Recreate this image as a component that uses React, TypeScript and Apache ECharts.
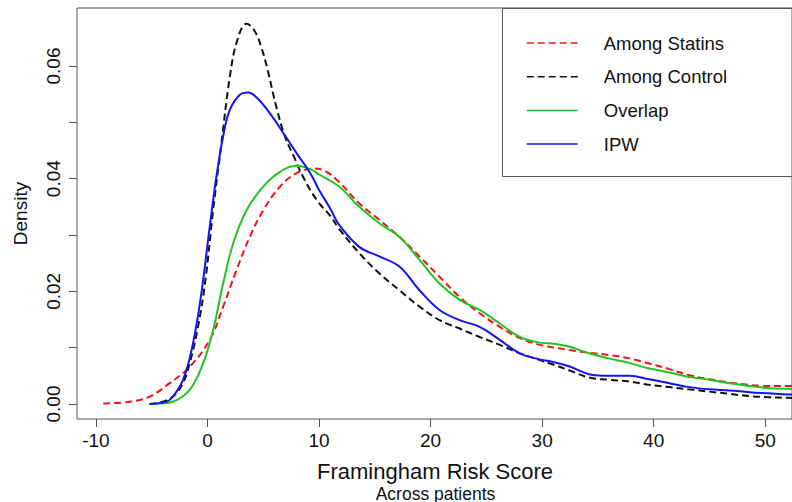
import React, { useEffect, useRef } from "react";
import * as echarts from "echarts";

// Kernel density estimates of the Framingham Risk Score, x = score, y = density
const statinsX = [-9.35, -7.0, -5.2, -3.4, -1.6, 0.2, 1.4, 2.6, 3.8, 5.0, 6.5, 8.0, 9.5, 10.5, 11.8, 13.6, 15.4, 17.2, 19.0, 20.8, 22.6, 24.4, 26.2, 28.0, 29.8, 31.5, 32.4, 34.2, 36.0, 37.8, 39.6, 41.4, 43.2, 45.0, 46.8, 48.6, 50.3, 52.1, 54.0];
const statinsY = [0.0001, 0.0004, 0.0013, 0.0037, 0.0066, 0.0114, 0.0173, 0.0238, 0.0297, 0.0344, 0.0386, 0.041, 0.0418, 0.0414, 0.0394, 0.0356, 0.0327, 0.0297, 0.0262, 0.0226, 0.019, 0.0161, 0.0137, 0.0117, 0.0105, 0.0099, 0.0096, 0.0091, 0.0087, 0.0081, 0.0072, 0.0062, 0.0051, 0.0044, 0.0038, 0.0034, 0.0032, 0.0032, 0.0031];

const controlX = [-5.2, -4.0, -3.0, -2.2, -1.6, -0.85, -0.15, 0.5, 1.25, 2.0, 2.7, 3.5, 4.2, 4.8, 5.4, 6.2, 7.0, 7.8, 8.6, 9.8, 11.0, 11.8, 13.6, 15.4, 17.2, 19.0, 20.8, 22.6, 24.4, 26.2, 28.0, 29.8, 30.7, 32.4, 34.2, 36.0, 37.8, 39.6, 41.4, 43.2, 45.0, 46.8, 48.6, 50.3, 52.1, 54.0];
const controlY = [0.0, 0.0004, 0.0015, 0.0037, 0.0072, 0.0137, 0.0226, 0.0344, 0.0463, 0.0581, 0.0648, 0.0675, 0.0663, 0.0635, 0.0592, 0.0525, 0.0472, 0.0437, 0.0402, 0.0362, 0.0334, 0.0311, 0.0268, 0.0232, 0.0202, 0.0173, 0.0149, 0.0134, 0.0119, 0.0105, 0.009, 0.0078, 0.0072, 0.006, 0.0047, 0.0043, 0.004, 0.0034, 0.003, 0.0026, 0.0022, 0.0018, 0.0014, 0.0012, 0.0011, 0.001];

const overlapX = [-5.2, -4.2, -3.1, -1.6, -0.4, 0.5, 1.4, 2.3, 3.5, 5.0, 6.5, 8.0, 9.2, 10.05, 11.8, 13.6, 15.4, 17.2, 19.0, 20.8, 22.6, 24.4, 26.2, 28.0, 29.8, 31.0, 32.4, 34.2, 36.0, 37.8, 39.6, 41.4, 43.2, 45.0, 46.8, 48.6, 50.3, 52.1, 54.0];
const overlapY = [0.0, 0.0001, 0.0004, 0.0025, 0.0072, 0.0131, 0.0214, 0.0285, 0.0344, 0.0386, 0.0412, 0.0423, 0.0417, 0.0407, 0.0386, 0.035, 0.0321, 0.0297, 0.0256, 0.0214, 0.0185, 0.0167, 0.0143, 0.0119, 0.0109, 0.0107, 0.0102, 0.009, 0.0081, 0.0073, 0.0063, 0.0056, 0.0048, 0.0043, 0.0037, 0.0032, 0.0028, 0.0027, 0.0026];

const ipwX = [-5.2, -4.2, -3.4, -2.2, -1.3, -0.55, 0.2, 0.8, 1.4, 2.0, 2.9, 3.65, 4.4, 5.6, 6.8, 8.0, 9.2, 10.0, 11.0, 11.8, 13.6, 15.4, 17.2, 19.0, 20.8, 22.6, 24.4, 26.2, 28.0, 29.8, 30.7, 32.4, 34.2, 36.0, 37.8, 39.6, 41.4, 43.2, 45.0, 46.8, 48.6, 50.3, 52.1, 54.0];
const ipwY = [0.0, 0.0002, 0.0007, 0.0043, 0.0108, 0.0197, 0.0315, 0.0404, 0.0475, 0.0522, 0.0549, 0.0553, 0.0544, 0.0516, 0.0481, 0.0445, 0.041, 0.038, 0.0347, 0.0318, 0.0279, 0.0262, 0.0244, 0.0202, 0.0167, 0.0149, 0.0137, 0.0114, 0.009, 0.0079, 0.0076, 0.0067, 0.0053, 0.005, 0.005, 0.0044, 0.0037, 0.003, 0.0026, 0.0024, 0.0021, 0.0019, 0.0017, 0.0016];

const xTicks = [-10, 0, 10, 20, 30, 40, 50];
const yTicks = [0, 0.01, 0.02, 0.03, 0.04, 0.05, 0.06];
const yTickLabels = [0, 0.02, 0.04, 0.06];

const FONT = "Liberation Sans, Arial, Helvetica, sans-serif";
const INK = "#111";
const FRAME = "#555";
const DASH = [7, 4];

const pairs = (xs: number[], ys: number[]) => xs.map((x, i) => [x, ys[i]]);

function curve(name: string, xs: number[], ys: number[], color: string, dashed: boolean) {
  return {
    name,
    type: "line",
    data: pairs(xs, ys),
    smooth: 0.4,
    symbol: "none",
    clip: true,
    lineStyle: { color, width: 2, type: dashed ? DASH : "solid" },
    itemStyle: { color },
  };
}

export default function App() {
  const ref = useRef<HTMLDivElement>(null);

  useEffect(() => {
    if (!ref.current) return;
    const chart = echarts.init(ref.current, null, { renderer: "svg" });
    chart.setOption({
      animation: false,
      backgroundColor: "#fff",
      grid: {
        left: 77,
        top: 8,
        width: 716,
        height: 411,
        show: true,
        borderColor: FRAME,
        borderWidth: 1,
        backgroundColor: "transparent",
      },
      xAxis: {
        type: "value",
        min: -11.7,
        max: 52.4,
        axisLine: { show: false, onZero: false },
        splitLine: { show: false },
        axisTick: {
          show: true,
          length: 8,
          customValues: xTicks,
          lineStyle: { color: FRAME, width: 1 },
        },
        axisLabel: {
          customValues: xTicks,
          margin: 12,
          fontSize: 19,
          fontFamily: FONT,
          color: INK,
        },
      },
      yAxis: {
        type: "value",
        min: -0.00266,
        max: 0.0703,
        axisLine: { show: false, onZero: false },
        splitLine: { show: false },
        axisTick: {
          show: true,
          length: 8,
          customValues: yTicks,
          lineStyle: { color: FRAME, width: 1 },
        },
        axisLabel: {
          customValues: yTickLabels,
          rotate: 90,
          margin: 14,
          fontSize: 19,
          fontFamily: FONT,
          color: INK,
          formatter: (v: number) => v.toFixed(2),
        },
      },
      legend: {
        orient: "vertical",
        left: 526,
        top: 33,
        itemWidth: 51,
        itemHeight: 20,
        itemGap: 13.7,
        padding: 0,
        selectedMode: false,
        textStyle: {
          fontSize: 18.5,
          fontFamily: FONT,
          color: INK,
          lineHeight: 20,
          padding: [0, 0, 0, 21],
        },
        itemStyle: { opacity: 0 },
        lineStyle: { width: 1.5 },
        data: ["Among Statins", "Among Control", "Overlap", "IPW"],
      },
      graphic: [
        {
          type: "rect",
          z: -1,
          shape: { x: 502.5, y: 8.5, width: 320, height: 168 },
          style: { fill: "#fff", stroke: FRAME, lineWidth: 1 },
        },
        {
          type: "text",
          x: 435,
          y: 471.5,
          style: {
            text: "Framingham Risk Score",
            font: `22px ${FONT}`,
            fill: INK,
            textAlign: "center",
            textVerticalAlign: "middle",
          },
        },
        {
          type: "text",
          x: 435.5,
          y: 493.5,
          style: {
            text: "Across patients",
            font: `17.5px ${FONT}`,
            fill: INK,
            textAlign: "center",
            textVerticalAlign: "middle",
          },
        },
        {
          type: "text",
          x: 20,
          y: 213.5,
          rotation: Math.PI / 2,
          style: {
            text: "Density",
            font: `19px ${FONT}`,
            fill: INK,
            textAlign: "center",
            textVerticalAlign: "middle",
          },
        },
      ],
      series: [
        curve("Among Statins", statinsX, statinsY, "#f01414", true),
        curve("Among Control", controlX, controlY, "#111111", true),
        curve("Overlap", overlapX, overlapY, "#22c322", false),
        curve("IPW", ipwX, ipwY, "#1414f0", false),
      ],
    });
    return () => chart.dispose();
  }, []);

  return (
    <div
      ref={ref}
      style={{ position: "absolute", left: 0, top: 0, width: 792, height: 502, background: "#fff" }}
    />
  );
}
